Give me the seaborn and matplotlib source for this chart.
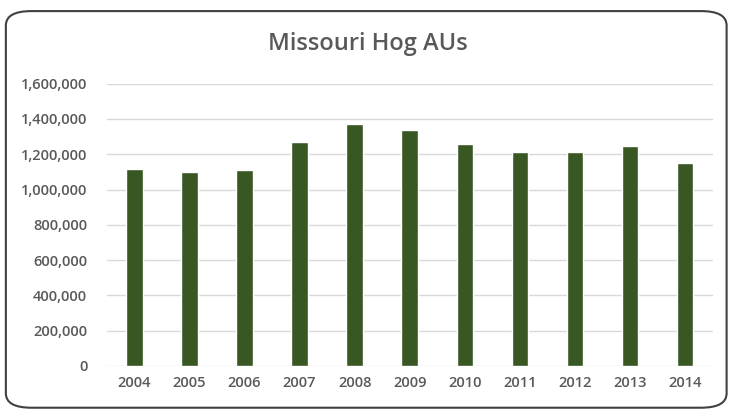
import matplotlib
matplotlib.use("Agg")
import matplotlib.pyplot as plt
import seaborn as sns
import pandas as pd
from matplotlib.patches import FancyBboxPatch
from matplotlib.ticker import FuncFormatter

# values
years = ["2004", "2005", "2006", "2007", "2008", "2009", "2010", "2011", "2012", "2013", "2014"]
hog_aus = [1119000, 1097000, 1108000, 1267000, 1369000, 1335000, 1256000, 1210000, 1210000, 1244000, 1153000]

df = pd.DataFrame({"year": years, "aus": hog_aus})

sns.set_style("white")
plt.rcParams["font.family"] = ["Open Sans", "DejaVu Sans"]

fig = plt.figure(figsize=(7.31, 4.11), dpi=100)
ax = fig.add_axes([0.146, 0.1095, 0.829, 0.687])

sns.barplot(data=df, x="year", y="aus", color="#385723", width=0.3, saturation=1, ax=ax)

ax.set_ylim(0, 1600000)
ax.set_xlim(-0.5, 10.5)
ax.set_yticks(range(0, 1600001, 200000))
ax.yaxis.set_major_formatter(FuncFormatter(lambda v, p: f"{int(v):,}"))
ax.grid(axis="y", color="#d9d9d9", linewidth=1)
ax.set_axisbelow(True)
for s in ax.spines.values():
    s.set_visible(False)
ax.tick_params(axis="both", length=0, labelsize=10.5, colors="#595959")
for lab in ax.get_xticklabels() + ax.get_yticklabels():
    lab.set_fontweight("semibold")
ax.tick_params(axis="y", pad=14)
ax.tick_params(axis="x", pad=7)
ax.set_xlabel("")
ax.set_ylabel("")

fig.text(0.503, 0.893, "Missouri Hog AUs", ha="center", va="center", fontsize=17,
         fontweight="semibold", color="#595959")

border = FancyBboxPatch((0.008, 0.008), 0.986, 0.965, boxstyle="round,pad=0,rounding_size=0.035",
                        transform=fig.transFigure, fill=False, edgecolor="#404040", linewidth=1.5)
fig.patches.append(border)

fig.savefig("out.png", dpi=100)
